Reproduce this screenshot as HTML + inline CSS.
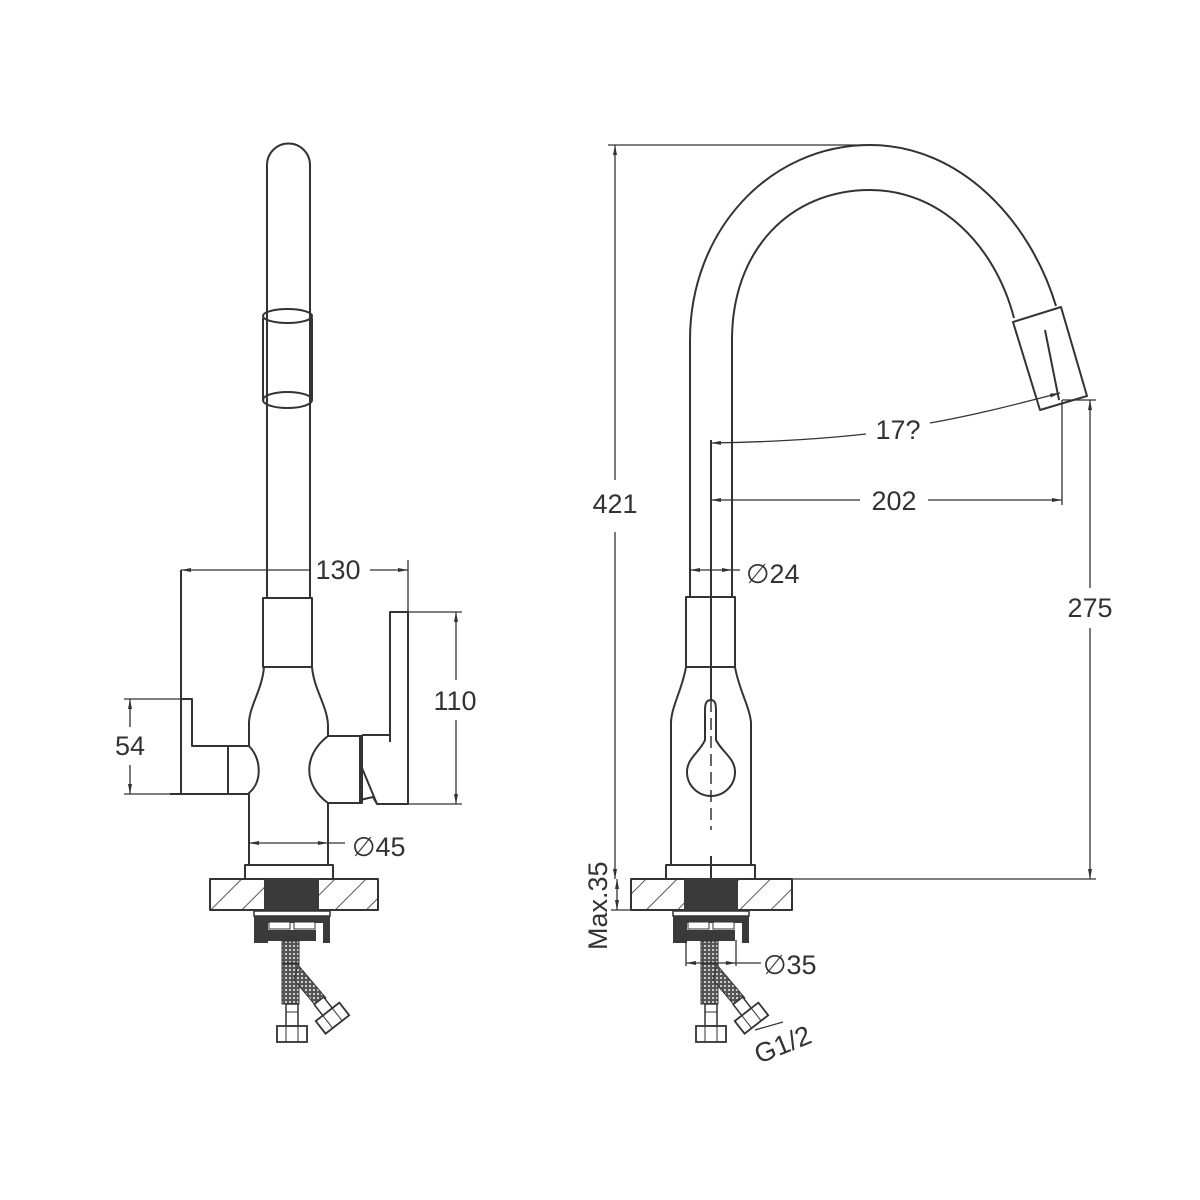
<!DOCTYPE html>
<html><head><meta charset="utf-8"><style>html,body{margin:0;padding:0;background:#fff}svg{display:block}</style></head>
<body>
<svg width="1200" height="1200" viewBox="0 0 1200 1200" xmlns="http://www.w3.org/2000/svg">
<defs>
<pattern id="hatch" width="22" height="22" patternUnits="userSpaceOnUse" patternTransform="rotate(45)">
<line x1="0" y1="0" x2="0" y2="22" stroke="#333" stroke-width="1.6"/>
</pattern>
<pattern id="mesh" width="4" height="4" patternUnits="userSpaceOnUse">
<rect width="4" height="4" fill="#555"/><rect x="1" y="1" width="2" height="2" fill="#ccc"/>
</pattern>
<marker id="ar" viewBox="0 0 10 6" refX="10" refY="3" markerWidth="10" markerHeight="6" orient="auto-start-reverse" markerUnits="userSpaceOnUse">
<path d="M0,1 L10,3 L0,5 Z" fill="#333"/></marker>
<g id="under">
<rect x="-38" y="911" width="76" height="5" fill="#fff" stroke="#333" stroke-width="1.5"/>
<path d="M-38,916 H38 V943 H31 V923 H-24 V943 H-38 Z" fill="#3a3a3a"/>
<rect x="-23" y="922" width="21" height="7" fill="#fff" stroke="#333"/>
<rect x="2" y="922" width="21" height="7" fill="#fff" stroke="#333"/>
<rect x="-24" y="930" width="48" height="11" fill="#3a3a3a"/>
<rect x="-10" y="941" width="17" height="22" fill="url(#mesh)" stroke="#333"/>
<rect x="-10" y="964" width="17" height="40" fill="url(#mesh)" stroke="#333"/>
<path d="M6,965 L34,998 L24,1006 L2,980 Z" fill="url(#mesh)" stroke="#333"/>
<rect x="-6" y="1004" width="12" height="22" fill="#fff" stroke="#333" stroke-width="1.5"/>
<line x1="-6" y1="1012" x2="6" y2="1012" stroke="#333"/>
<rect x="-15" y="1026" width="30" height="16" fill="#fff" stroke="#333" stroke-width="1.8"/>
<line x1="-6" y1="1026" x2="-6" y2="1042" stroke="#333"/><line x1="6" y1="1026" x2="6" y2="1042" stroke="#333"/>
<g transform="translate(38,1015) rotate(-38)">
<rect x="-6" y="-18" width="12" height="14" fill="#fff" stroke="#333" stroke-width="1.5"/>
<rect x="-15" y="-4" width="30" height="16" fill="#fff" stroke="#333" stroke-width="1.8"/>
<line x1="-6" y1="-4" x2="-6" y2="12" stroke="#333"/><line x1="6" y1="-4" x2="6" y2="12" stroke="#333"/>
</g>
</g>
</defs>
<g fill="none" stroke="#333" stroke-width="2" stroke-linejoin="round">
<!-- LEFT FAUCET -->
<path d="M267,598 V165 A21.5,21.5 0 0 1 310,165 V598"/>
<path d="M263,318 V400 M312,318 V400"/>
<ellipse cx="287.5" cy="316" rx="24.5" ry="7"/>
<ellipse cx="287.5" cy="400" rx="24.5" ry="8"/>
<rect x="263" y="598" width="49" height="69"/>
<path d="M264,667 C262,690 250,705 249,722 V746 C262,760 262,782 249,793 V865"/>
<path d="M312,667 C314,690 327,705 328,725 V736 C303,755 303,785 328,803 V865"/>
<path d="M181,570 V794 M181,699 H192 V746 H228 V794 H249 M170,794 H228"/>
<path d="M228,746 H249"/>
<path d="M328,736 H362 V803 H328"/>
<line x1="360" y1="736" x2="360" y2="803"/>
<path d="M362,735 H390 V612 H408 V804 H377 L362,768 M360,800 L373,797 L377,804"/>
<line x1="390" y1="735" x2="390" y2="742"/>
<rect x="245" y="865" width="88" height="14"/>
<rect x="210" y="879" width="168" height="31" fill="url(#hatch)"/>
<rect x="265" y="879" width="53" height="31" fill="#3a3a3a" stroke="#3a3a3a"/>
<!-- RIGHT FAUCET -->
<path d="M690,598 V340 C690,230 770,145 870,145 C960,145 1030,220 1056,306"/>
<path d="M732,598 V340 C732,250 790,190 870,190 C940,190 995,245 1014,318"/>
<path d="M1013,322 L1061,307 L1087,396 L1040,410 Z"/>
<path d="M1045,330 L1059,400"/>
<line x1="711" y1="440" x2="711" y2="700"/>
<rect x="686" y="597" width="49" height="70"/>
<path d="M686,667 C682,690 672,705 671,722 V865 M735,667 C739,690 749,705 751,722 V865"/>
<path d="M711,700 C705,700 705,706 705,712 V740 C700,752 687,758 687,772 A24,24 0 0 0 735,772 C735,758 722,752 716,740 V712 C716,706 716,700 711,700"/>
<rect x="666" y="865" width="89" height="14" fill="#fff"/>
<line x1="711" y1="856" x2="711" y2="879"/>
<rect x="631" y="879" width="161" height="31" fill="url(#hatch)"/>
<rect x="685" y="879" width="52" height="31" fill="#3a3a3a" stroke="#3a3a3a"/>
</g>
<line x1="711" y1="700" x2="711" y2="830" stroke="#333" stroke-width="1.5" stroke-dasharray="12,6"/>
<use href="#under" transform="translate(292,0)"/>
<use href="#under" transform="translate(711,0)"/>
<!-- DIMENSIONS -->
<g fill="none" stroke="#333" stroke-width="1.3">
<line x1="181" y1="570" x2="310" y2="570" marker-start="url(#ar)"/>
<line x1="370" y1="570" x2="408" y2="570" marker-end="url(#ar)"/>
<line x1="408" y1="560" x2="408" y2="612"/>
<line x1="408" y1="612" x2="462" y2="612"/><line x1="408" y1="804" x2="462" y2="804"/>
<line x1="456" y1="612" x2="456" y2="680" marker-start="url(#ar)"/>
<line x1="456" y1="720" x2="456" y2="804" marker-end="url(#ar)"/>
<line x1="124" y1="699" x2="181" y2="699"/><line x1="124" y1="794" x2="181" y2="794"/>
<line x1="130" y1="699" x2="130" y2="727" marker-start="url(#ar)"/>
<line x1="130" y1="765" x2="130" y2="794" marker-end="url(#ar)"/>
<line x1="249" y1="843" x2="328" y2="843" marker-start="url(#ar)" marker-end="url(#ar)"/>
<line x1="328" y1="843" x2="345" y2="843"/>
<line x1="608" y1="145" x2="870" y2="145"/>
<line x1="615" y1="145" x2="615" y2="480" marker-start="url(#ar)"/>
<line x1="615" y1="532" x2="615" y2="879" marker-end="url(#ar)"/>
<line x1="792" y1="879" x2="1096" y2="879"/>
<line x1="1062" y1="400" x2="1096" y2="400"/>
<line x1="1090" y1="400" x2="1090" y2="588" marker-start="url(#ar)"/>
<line x1="1090" y1="628" x2="1090" y2="879" marker-end="url(#ar)"/>
<line x1="1062" y1="400" x2="1062" y2="505"/>
<line x1="711" y1="500" x2="860" y2="500" marker-start="url(#ar)"/>
<line x1="928" y1="500" x2="1062" y2="500" marker-end="url(#ar)"/>
<path d="M711,443 C780,442 830,438 866,434" marker-start="url(#ar)"/>
<path d="M930,423 C970,416 1010,406 1060,393" marker-end="url(#ar)"/>
<line x1="690" y1="570" x2="732" y2="570" marker-start="url(#ar)" marker-end="url(#ar)"/>
<line x1="732" y1="570" x2="740" y2="570"/>
<line x1="611" y1="910" x2="631" y2="910"/>
<line x1="617" y1="879" x2="617" y2="910" marker-start="url(#ar)" marker-end="url(#ar)"/>
<line x1="686" y1="940" x2="686" y2="966"/><line x1="736" y1="940" x2="736" y2="966"/>
<line x1="686" y1="963" x2="736" y2="963" marker-start="url(#ar)" marker-end="url(#ar)"/>
<line x1="736" y1="963" x2="761" y2="963"/>
<line x1="755" y1="1030" x2="783" y2="1022"/>
</g>
<g font-family="Liberation Sans, sans-serif" font-size="27" fill="#333">
<text x="338" y="579" text-anchor="middle">130</text>
<text x="455" y="710" text-anchor="middle">110</text>
<text x="130" y="755" text-anchor="middle">54</text>
<text x="352" y="856">∅45</text>
<text x="615" y="513" text-anchor="middle">421</text>
<text x="1090" y="617" text-anchor="middle">275</text>
<text x="894" y="510" text-anchor="middle">202</text>
<text x="898" y="439" text-anchor="middle">17?</text>
<text x="746" y="583">∅24</text>
<text x="763" y="974">∅35</text>
<text transform="translate(607,950) rotate(-90)">Max.35</text>
<text transform="translate(759,1064) rotate(-22)">G1/2</text>
</g>
</svg>
</body></html>
